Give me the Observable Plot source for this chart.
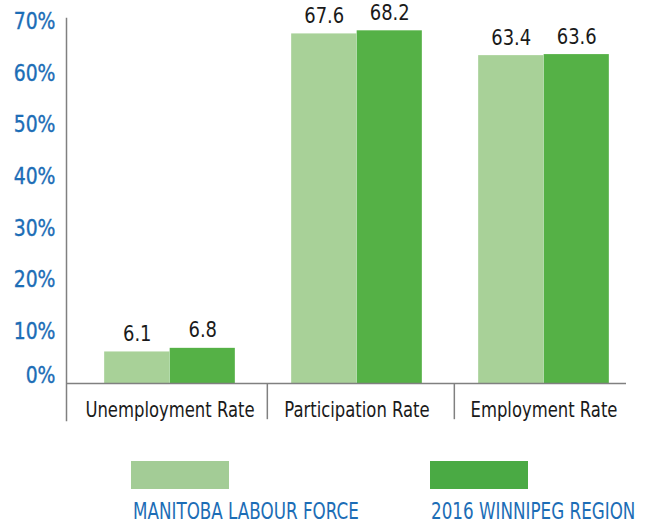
<!DOCTYPE html>
<html>
<head>
<meta charset="utf-8">
<script src="https://cdn.jsdelivr.net/npm/d3@7"></script>
<script src="https://cdn.jsdelivr.net/npm/@observablehq/plot@0.6"></script>
<style>
  html, body { margin: 0; padding: 0; background: #fff; }
  #wrap { position: relative; width: 656px; height: 527px; overflow: hidden;
          font-family: "DejaVu Sans Condensed", "Liberation Sans", sans-serif; }
  .sw { position: absolute; width: 98px; height: 28px; }
  .lt { position: absolute; font-size: 23px; line-height: 23px; color: #1c6db6; white-space: nowrap;
        transform: scaleX(0.81); transform-origin: 0 0; }
  .ylab text { stroke: #1c6db6; stroke-width: 0.35px; }
</style>
</head>
<body>
<div id="wrap"></div>
<script>
const categories = ["Unemployment Rate", "Participation Rate", "Employment Rate"];
const series = ["MANITOBA LABOUR FORCE", "2016 WINNIPEG REGION"];
const manitoba = [6.1, 67.6, 63.4];
const winnipeg = [6.8, 68.2, 63.6];
const yTicks = [0, 10, 20, 30, 40, 50, 60, 70];
const barColors = ["#a8d198", "#55b146"];
const legendColors = ["#a3cc96", "#4aaa44"];
const blue = "#1c6db6";
const fontFamily = '"DejaVu Sans Condensed", "Liberation Sans", sans-serif';

const rowsM = categories.map((c, i) => ({category: c, series: series[0], value: manitoba[i]}));
const rowsW = categories.map((c, i) => ({category: c, series: series[1], value: winnipeg[i]}));

const xRange = [75, 637];
const step = (xRange[1] - xRange[0]) / categories.length;
const barW = 65.5;
const gap = (step - 2 * barW) / 2;

const chart = Plot.plot({
  width: 656,
  height: 450,
  marginLeft: 66,
  marginRight: 30,
  marginTop: 18,
  marginBottom: 30,
  style: {fontFamily, background: "transparent", overflow: "visible"},
  x: {domain: categories, range: xRange, padding: 0},
  y: {domain: [0, 70], range: [383, 21]},
  marks: [
    Plot.barY(rowsM, {x: "category", y: "value", fill: barColors[0],
      insetLeft: gap, insetRight: step - gap - barW}),
    Plot.barY(rowsW, {x: "category", y: "value", fill: barColors[1],
      insetLeft: gap + barW, insetRight: gap}),
    Plot.text(rowsM, {x: "category", y: "value", text: d => d.value.toFixed(1),
      dx: gap + barW / 2 - step / 2, dy: -11, lineAnchor: "bottom",
      fontSize: 21, fill: "#1a1a1a", className: "vlab"}),
    Plot.text(rowsW, {x: "category", y: "value", text: d => d.value.toFixed(1),
      dx: gap + barW * 1.5 - step / 2, dy: -11, lineAnchor: "bottom",
      fontSize: 21, fill: "#1a1a1a", className: "vlab"}),
    Plot.frame({anchor: "left", stroke: "#808080", strokeWidth: 1.5}),
    Plot.ruleX(categories.slice(1), {x: d => d, dx: -step / 2 + 4,
      y1: 0, y2: -7, stroke: "#808080", strokeWidth: 1.5}),
    Plot.ruleY([0], {stroke: "#808080", strokeWidth: 1.5}),
    Plot.axisY({ticks: yTicks.slice(1), tickFormat: d => d + "%", tickSize: 0,
      tickPadding: 11, fontSize: 23, fill: blue, label: null, className: "ylab"}),
    Plot.axisY({ticks: [yTicks[0]], tickFormat: d => d + "%", tickSize: 0,
      tickPadding: 11, fontSize: 23, fill: blue, dy: -8, label: null, className: "ylab"}),
    Plot.axisX({tickSize: 0, tickPadding: 0, fontSize: 21, fill: "#1a1a1a",
      dy: -18, label: null, className: "xlab"})
  ]
});

// condense the text horizontally, as the reference uses a narrow typeface
function condense(sel, k) {
  chart.querySelectorAll(sel).forEach(t => {
    const tr = t.getAttribute("transform") || "";
    t.setAttribute("transform", tr + ` scale(${k},1)`);
  });
}
condense(".xlab text", 0.87);
condense(".ylab text", 0.91);
condense(".vlab text", 0.95);

const wrap = document.getElementById("wrap");
wrap.appendChild(chart);

const legendPos = [{sx: 131, tx: 133}, {sx: 430, tx: 431}];
series.forEach((s, i) => {
  const sw = document.createElement("div");
  sw.className = "sw";
  sw.style.left = legendPos[i].sx + "px";
  sw.style.top = "461px";
  sw.style.background = legendColors[i];
  wrap.appendChild(sw);
  const t = document.createElement("div");
  t.className = "lt";
  t.style.left = legendPos[i].tx + "px";
  t.style.top = "500px";
  t.textContent = s;
  wrap.appendChild(t);
});
</script>
</body>
</html>
